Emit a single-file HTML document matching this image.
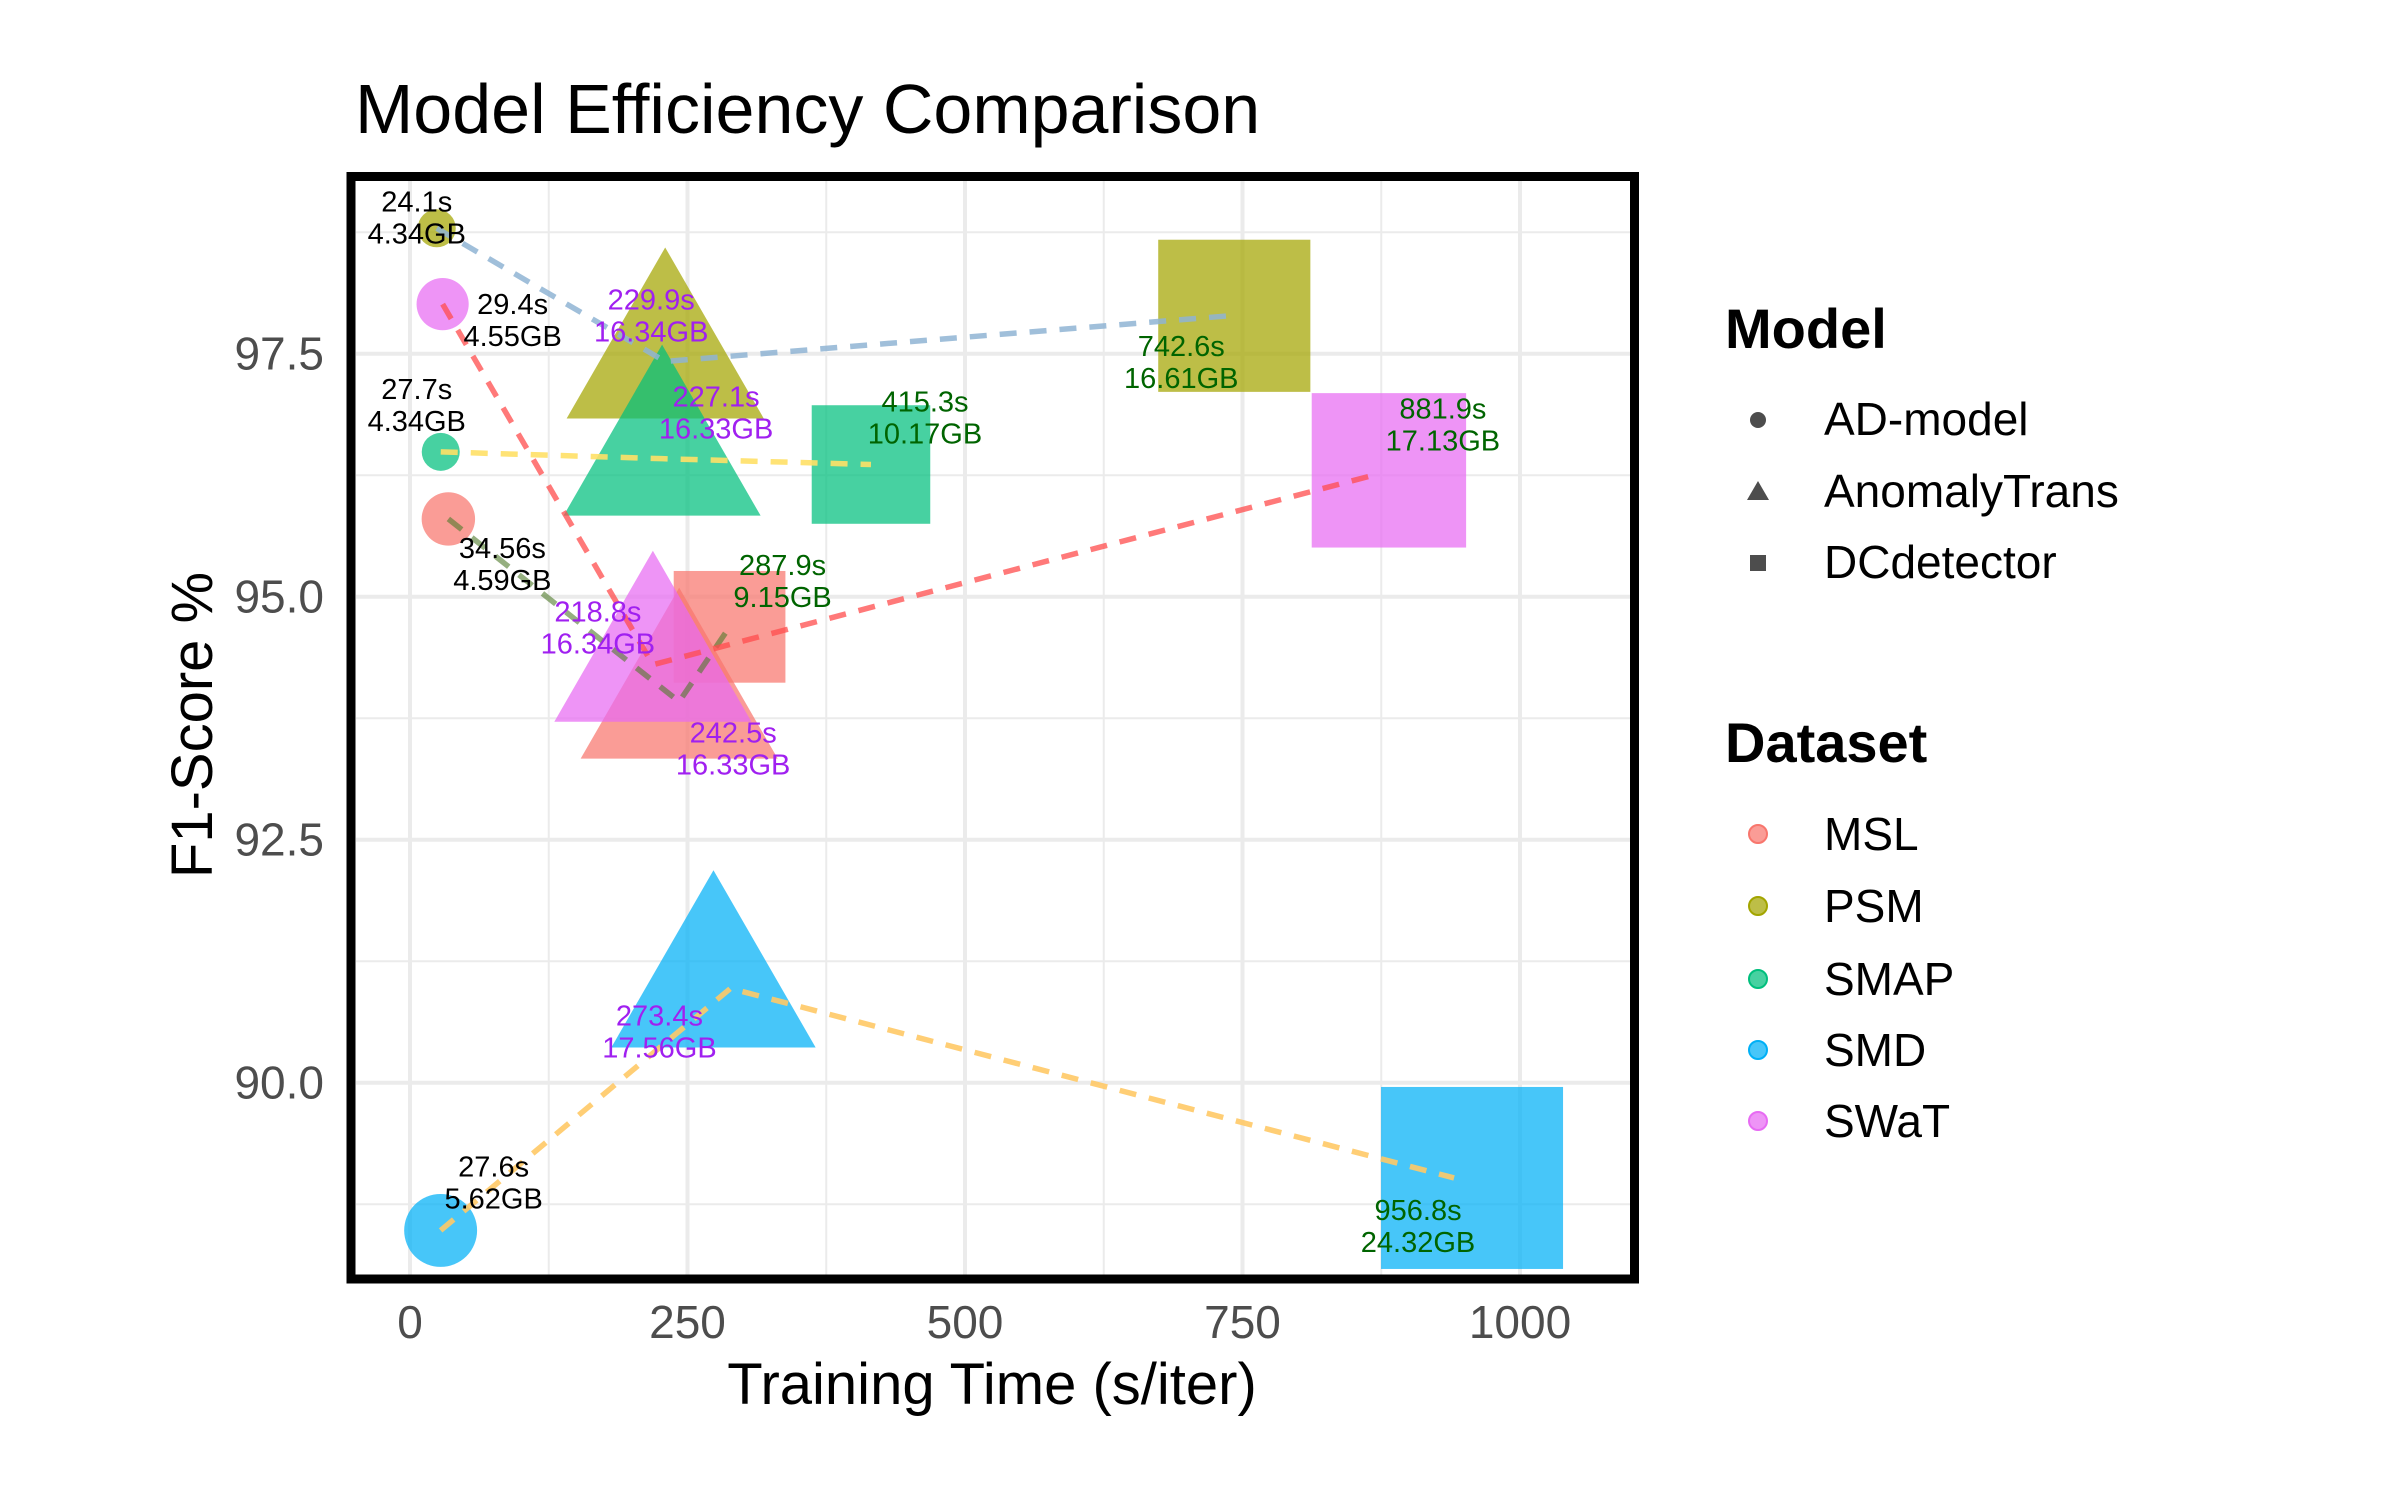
<!DOCTYPE html>
<html><head><meta charset="utf-8"><style>
html,body{margin:0;padding:0;background:#fff}
svg{display:block}
text{font-family:"Liberation Sans",sans-serif}
</style></head><body>
<svg id="chart" width="2400" height="1500" viewBox="0 0 2400 1500" xmlns="http://www.w3.org/2000/svg">
<text x="355" y="133" font-size="70" fill="#000">Model Efficiency Comparison</text>
<g id="grid"></g>
<g id="marks"></g>
<g id="lines"></g>
<g id="labels"></g>
<rect x="351" y="176.5" width="1283.5" height="1102.5" fill="none" stroke="#000" stroke-width="9"/>
<g id="axes"></g>
<text x="992" y="1404" font-size="58" text-anchor="middle" fill="#000">Training Time (s/iter)</text>
<text transform="translate(212,725) rotate(-90)" font-size="58" text-anchor="middle" fill="#000">F1-Score %</text>
<g id="legend"></g>
</svg>
<script>
const datasets = ["MSL","PSM","SMAP","SMD","SWaT"];
const models = ["AD-model","AnomalyTrans","DCdetector"];
// per dataset, per model: time (s/iter), F1 %, memory GB
const timeMSL = [34.56, 242.5, 287.9];
const timePSM = [24.1, 229.9, 742.6];
const timeSMAP = [27.7, 227.1, 415.3];
const timeSMD = [27.6, 273.4, 956.8];
const timeSWaT = [29.4, 218.8, 881.9];
const f1MSL = [95.8, 93.92, 94.69];
const f1PSM = [98.79, 97.42, 97.89];
const f1SMAP = [96.49, 96.42, 96.36];
const f1SMD = [88.48, 90.97, 89.02];
const f1SWaT = [98.01, 94.3, 96.3];
const memMSL = [4.59, 16.33, 9.15];
const memPSM = [4.34, 16.34, 16.61];
const memSMAP = [4.34, 16.33, 10.17];
const memSMD = [5.62, 17.56, 24.32];
const memSWaT = [4.55, 16.34, 17.13];
const xTicks = [0, 250, 500, 750, 1000];
const yTicks = [90.0, 92.5, 95.0, 97.5];

const times = [timeMSL,timePSM,timeSMAP,timeSMD,timeSWaT];
const f1s = [f1MSL,f1PSM,f1SMAP,f1SMD,f1SWaT];
const mems = [memMSL,memPSM,memSMAP,memSMD,memSWaT];

// styling
const fillColors = ["#F8766D","#A3A500","#00BF7D","#00B0F6","#E76BF3"];
const lineColors = ["#4f7a2a","#8fb4d4","#ffe066","#ffc966","#ff4c4c"];
const lineOpacity = [0.6,0.85,0.9,0.9,0.75];
const labelColors = ["#000","#a020f0","#006400"];
const lineJitX = [[0,0,0],[0,0,-5],[0,0,0],[0,17,-18],[0,0,-16]];
const lineJitY = [[0,0,0],[0,0,0],[0,0,0],[0,0,0],[0,0,5]];
const labelOff = [[[54,39],[54,41],[53,-52]],[[-20,-17],[-14,-52],[-53,40]],[[-24,-53],[54,-52],[54,-53]],[[53,-54],[-54,37],[-54,42]],[[70,10],[-55,-43],[54,-52]]];

const NS="http://www.w3.org/2000/svg";
const X = v => 410 + 1.11*v;
const Y = v => 353.7 + (97.5 - v)*97.2;
const memMin=4.34, memMax=24.32;
const sz = m => 19 + 69*Math.sqrt(Math.max(0,(m-memMin))/(memMax-memMin));
function mk(tag, attrs, parent){const e=document.createElementNS(NS,tag);for(const k in attrs)e.setAttribute(k,attrs[k]);parent.appendChild(e);return e;}

const grid=document.getElementById('grid');
for(let v=-125; v<=1125; v+=125){const x=X(v); if(x<356||x>1630)continue;
  const major = v%250===0;
  const l=mk('line',{x1:x,x2:x,y1:181,y2:1275,stroke:'#ebebeb','stroke-width':major?4:2},grid);
  
  }
for(let v=88.75; v<=99.5; v+=1.25){const y=Y(v); if(y<181||y>1275)continue;
  const major = Math.abs((v*2)%5)<1e-6;
  const l=mk('line',{x1:356,x2:1630,y1:y,y2:y,stroke:'#ebebeb','stroke-width':major?4:2},grid);
  
  }

const axes=document.getElementById('axes');
xTicks.forEach(v=>{const t=mk('text',{x:X(v),y:1338,'font-size':46,'text-anchor':'middle',fill:'#4d4d4d'},axes);t.textContent=String(v);
  
  });
yTicks.forEach(v=>{const t=mk('text',{x:324,y:Y(v)+16,'font-size':46,'text-anchor':'end',fill:'#4d4d4d'},axes);t.textContent=v.toFixed(1);
  
  });

const marks=document.getElementById('marks'), lines=document.getElementById('lines'), labels=document.getElementById('labels');
datasets.forEach((d,i)=>{
  for(let m=0;m<3;m++){
    const cx=X(times[i][m]), cy=Y(f1s[i][m]), s=sz(mems[i][m]);
    let e;
    if(m===0) e=mk('circle',{cx:cx,cy:cy,r:s},marks);
    else if(m===1){const w=s*1.36,h=s*2.36;
      e=mk('polygon',{points:`${cx},${cy-h*2/3} ${cx-w},${cy+h/3} ${cx+w},${cy+h/3}`},marks);}
    else {const h=s+3; e=mk('rect',{x:cx-h,y:cy-h,width:2*h,height:2*h},marks);}
    e.setAttribute('fill',fillColors[i]); e.setAttribute('fill-opacity',0.72);
    
    
  }
});
datasets.forEach((d,i)=>{
  const pts=times[i].map((t,m)=>(X(t)+lineJitX[i][m])+','+(Y(f1s[i][m])+lineJitY[i][m])).join(' ');
  const pl=mk('polyline',{points:pts,fill:'none',stroke:lineColors[i],'stroke-opacity':lineOpacity[i],'stroke-width':5.5,'stroke-dasharray':'17 13'},lines);
  
  
  for(let m=0;m<3;m++){
    const lx=X(times[i][m])+labelOff[i][m][0], ly=Y(f1s[i][m])+labelOff[i][m][1];
    const t=mk('text',{x:lx,y:ly,'font-size':29,'text-anchor':'middle',fill:labelColors[m]},labels);
    const a=mk('tspan',{x:lx,dy:0},t); a.textContent=times[i][m]+'s';
    const b=mk('tspan',{x:lx,dy:32},t); b.textContent=mems[i][m].toFixed(2)+'GB';
    
    
  }
});

const lg=document.getElementById('legend');
let t=mk('text',{x:1725,y:348,'font-size':56,'font-weight':'bold',fill:'#000'},lg);t.textContent='Model';


const modelY=[435,507,578];
models.forEach((m,k)=>{const y=modelY[k]-15;let g;
  if(k===0) g=mk('circle',{cx:1758,cy:y,r:8,fill:'#4d4d4d'},lg);
  else if(k===1) g=mk('polygon',{points:`1758,${y-11} 1747,${y+8} 1769,${y+8}`,fill:'#4d4d4d'},lg);
  else g=mk('rect',{x:1750,y:y-8,width:16,height:16,fill:'#4d4d4d'},lg);
  
  
  const tx=mk('text',{x:1824,y:modelY[k],'font-size':46,fill:'#000'},lg);tx.textContent=m;
  
  
});
t=mk('text',{x:1725,y:762,'font-size':56,'font-weight':'bold',fill:'#000'},lg);t.textContent='Dataset';


const dsY=[850,922,995,1066,1137];
datasets.forEach((d,k)=>{const y=dsY[k]-16;
  const c=mk('circle',{cx:1758,cy:y,r:9,fill:fillColors[k],'fill-opacity':0.72,stroke:fillColors[k],'stroke-width':2},lg);
  
  
  const tx=mk('text',{x:1824,y:dsY[k],'font-size':46,fill:'#000'},lg);tx.textContent=d;
  
  
});
</script>
</body></html>
